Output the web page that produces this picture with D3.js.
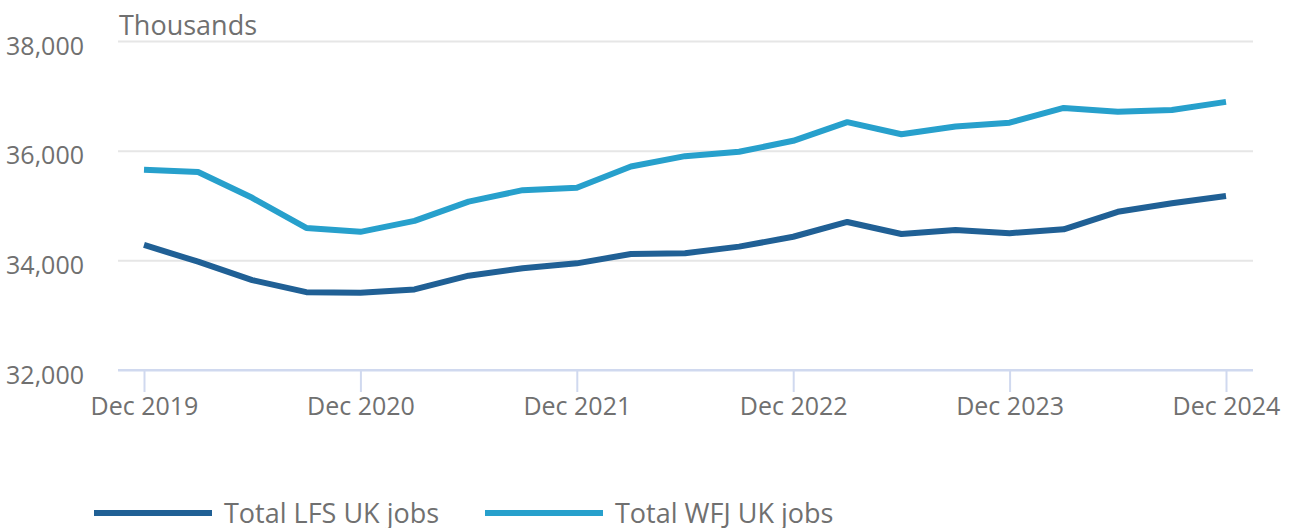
<!DOCTYPE html>
<html><head><meta charset="utf-8">
<script src="https://cdn.jsdelivr.net/npm/d3@7"></script>
<style>
html,body{margin:0;padding:0;background:#fff;}
svg text{font-family:"Open Sans",sans-serif;fill:#707070;}
</style></head>
<body>
<svg id="chart" width="1290" height="528"></svg>
<script>
const quarters = ["Dec 2019","Mar 2020","Jun 2020","Sep 2020","Dec 2020","Mar 2021","Jun 2021","Sep 2021","Dec 2021","Mar 2022","Jun 2022","Sep 2022","Dec 2022","Mar 2023","Jun 2023","Sep 2023","Dec 2023","Mar 2024","Jun 2024","Sep 2024","Dec 2024"];
const lfsJobs = [34280,33975,33640,33420,33410,33470,33720,33855,33945,34115,34130,34250,34430,34700,34480,34555,34495,34565,34885,35040,35175];
const wfjJobs = [35650,35610,35140,34590,34520,34720,35070,35280,35325,35710,35900,35980,36180,36520,36300,36440,36510,36780,36710,36740,36890];
const xTickLabels = ["Dec 2019","Dec 2020","Dec 2021","Dec 2022","Dec 2023","Dec 2024"];
const yTicks = [32000,34000,36000,38000];
const seriesNames = ["Total LFS UK jobs","Total WFJ UK jobs"];
const seriesColors = ["#206095","#27a0cc"];

const svg = d3.select("#chart");
const plotLeft = 118, plotRight = 1253, plotTop = 41, plotBottom = 370;

const x = d3.scalePoint().domain(quarters).range([144, 1226]);
const y = d3.scaleLinear().domain([32000, 38000]).range([plotBottom, plotTop]);

// gridlines
const yAxis = d3.axisLeft(y).tickValues(yTicks).tickSize(-(plotRight - plotLeft)).tickFormat(d3.format(","));
const gy = svg.append("g").attr("transform", `translate(${plotLeft},0)`).call(yAxis);
gy.select(".domain").remove();
gy.selectAll(".tick line").attr("stroke", "#e6e6e6").attr("stroke-width", 2);
gy.selectAll(".tick text").attr("x", -34).attr("dy", null).attr("y", 13)
  .style("font-size", "25px").attr("text-anchor", "end");
gy.selectAll(".tick").filter(d => d === 32000).select("line").attr("stroke", "#d0d9ef");

// x axis
const xAxis = d3.axisBottom(x).tickValues(xTickLabels).tickSize(22).tickPadding(6);
const gx = svg.append("g").attr("transform", `translate(0,${plotBottom})`).call(xAxis);
gx.select(".domain").remove();
gx.selectAll(".tick line").attr("stroke", "#d0d9ef").attr("stroke-width", 2);
gx.selectAll(".tick text").style("font-size", "25px").attr("y", 45).attr("dy", null);
svg.append("line").attr("x1", plotLeft).attr("x2", plotRight).attr("y1", plotBottom).attr("y2", plotBottom)
  .attr("stroke", "#d0d9ef").attr("stroke-width", 2);

// unit label
svg.append("text").attr("x", 119).attr("y", 35).style("font-size", "27px").text("Thousands");

// lines
const line = d3.line().x((d, i) => x(quarters[i])).y(d => y(d));
[lfsJobs, wfjJobs].forEach((s, k) => {
  svg.append("path").datum(s).attr("d", line).attr("fill", "none")
    .attr("stroke", seriesColors[k]).attr("stroke-width", 6).attr("stroke-linejoin", "round");
});

// legend
const legendX = [94, 485];
seriesNames.forEach((n, k) => {
  const g = svg.append("g").attr("transform", `translate(${legendX[k]},513)`);
  g.append("line").attr("x1", 0).attr("x2", 118).attr("stroke", seriesColors[k]).attr("stroke-width", 6);
  g.append("text").attr("x", 130).attr("y", 10).style("font-size", "27px").text(n);
});
</script>
</body></html>
